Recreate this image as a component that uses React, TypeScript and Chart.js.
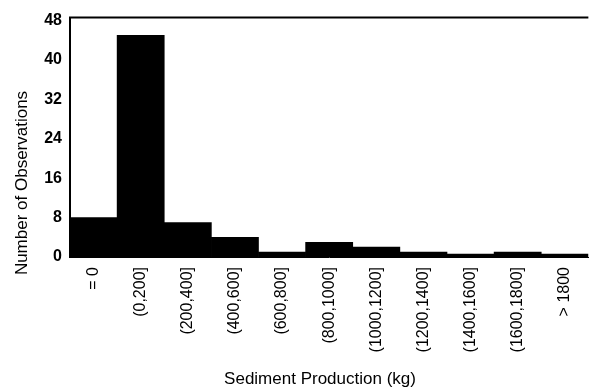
import React, { useEffect, useRef } from "react";
import { Chart, registerables } from "chart.js";

Chart.register(...registerables);

const categories = [
  "= 0",
  "(0,200]",
  "(200,400]",
  "(400,600]",
  "(600,800]",
  "(800,1000]",
  "(1000,1200]",
  "(1200,1400]",
  "(1400,1600]",
  "(1600,1800]",
  "> 1800",
];
const observations = [8, 45, 7, 4, 1, 3, 2, 1, 0, 1, 0];
const yTicks = [0, 8, 16, 24, 32, 40, 48];
const yMax = 48.6;
const yAxisTitle = "Number of Observations";
const xAxisTitle = "Sediment Production (kg)";

const FONT = '"Liberation Sans", Arial, Helvetica, sans-serif';

const framePlugin = {
  id: "frameAndTitles",
  afterDraw(chart: any) {
    const { ctx, chartArea } = chart;
    ctx.save();
    ctx.strokeStyle = "#000";
    ctx.lineWidth = 2;
    ctx.beginPath();
    ctx.moveTo(chartArea.left - 1, chartArea.top);
    ctx.lineTo(chartArea.right, chartArea.top);
    ctx.stroke();

    ctx.fillStyle = "#000";
    ctx.font = `17px ${FONT}`;
    ctx.textAlign = "center";
    ctx.textBaseline = "middle";
    ctx.fillText(xAxisTitle, 320, 379);

    ctx.translate(22, 183);
    ctx.rotate(-Math.PI / 2);
    ctx.fillText(yAxisTitle, 0, 0);
    ctx.restore();
  },
};

export default function App() {
  const canvasRef = useRef<HTMLCanvasElement | null>(null);

  useEffect(() => {
    const canvas = canvasRef.current;
    if (!canvas) return;
    const chart = new Chart(canvas, {
      type: "bar",
      data: {
        labels: categories,
        datasets: [
          {
            label: yAxisTitle,
            data: observations,
            backgroundColor: "#000",
            borderWidth: 0,
            barPercentage: 1,
            categoryPercentage: 1,
            minBarLength: 3,
          },
        ],
      },
      options: {
        responsive: false,
        animation: false,
        devicePixelRatio: 1,
        layout: { padding: { top: 14, left: 0, right: 0, bottom: 0 } },
        plugins: {
          legend: { display: false },
          tooltip: { enabled: false },
        },
        scales: {
          x: {
            grid: { display: false, drawTicks: false },
            border: { display: true, color: "#000", width: 1 },
            ticks: {
              autoSkip: false,
              minRotation: 90,
              maxRotation: 90,
              padding: 10,
              color: "#000",
              font: { family: FONT, size: 16 },
            },
            afterFit(scale: any) {
              scale.height = 132;
            },
          },
          y: {
            min: 0,
            max: yMax,
            grid: { display: false, drawTicks: false },
            border: { display: true, color: "#000", width: 2 },
            ticks: {
              autoSkip: false,
              padding: 8,
              color: "#000",
              font: { family: FONT, size: 16, weight: "bold" },
            },
            afterBuildTicks(scale: any) {
              scale.ticks = yTicks.map((v) => ({ value: v }));
            },
            afterFit(scale: any) {
              scale.width = 70;
            },
          },
        },
      },
      plugins: [framePlugin],
    });
    return () => chart.destroy();
  }, []);

  return (
    <div
      style={{
        position: "absolute",
        left: 0,
        top: 0,
        width: 594,
        height: 389,
        background: "#fff",
        overflow: "hidden",
      }}
    >
      <canvas
        ref={canvasRef}
        width={594}
        height={389}
        style={{ display: "block", width: 594, height: 389 }}
      />
    </div>
  );
}
